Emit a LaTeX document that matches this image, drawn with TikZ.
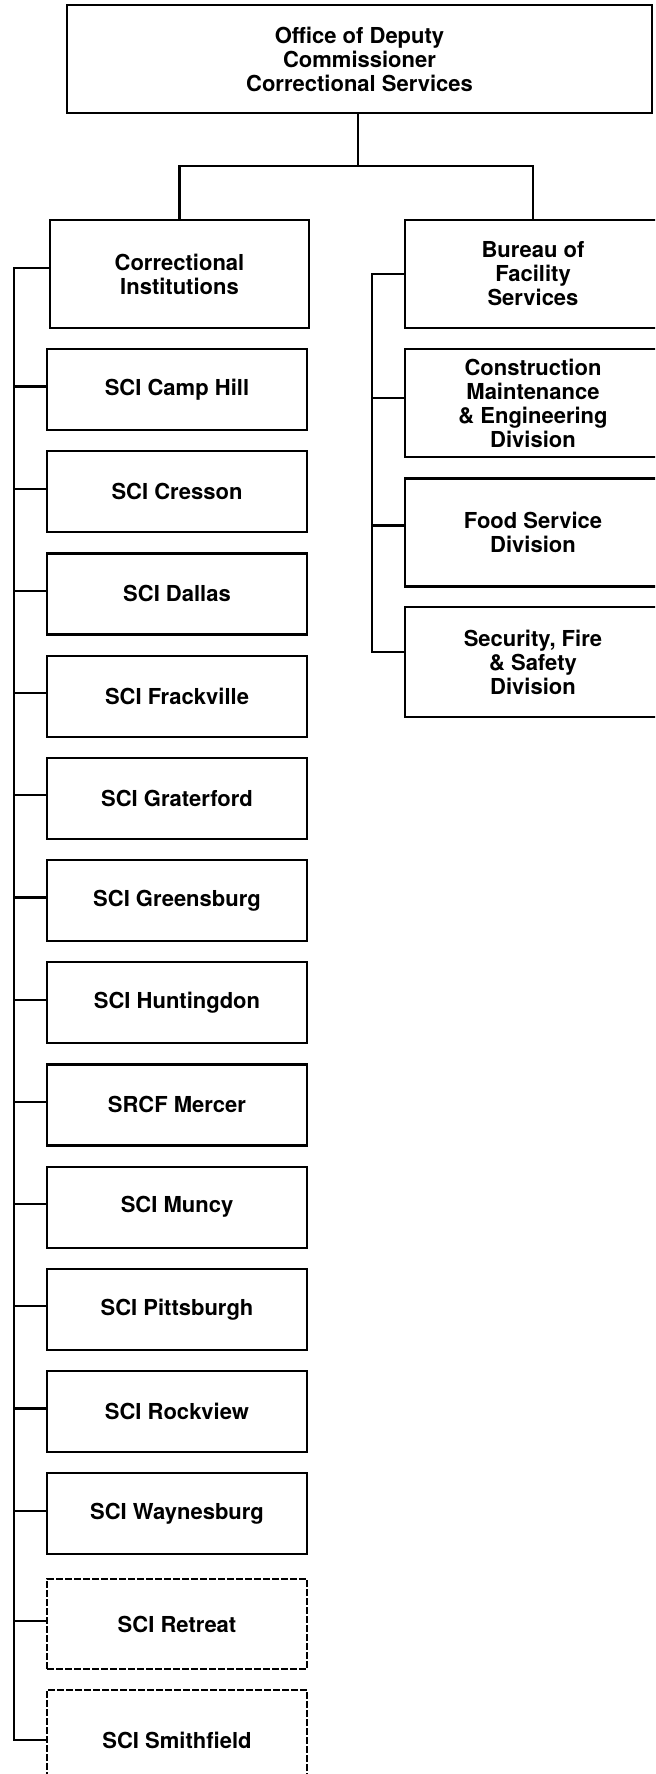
\documentclass[tikz,border=0pt]{standalone}
\usepackage{fontspec}
\setmainfont{TeX Gyre Heros}

\begin{document}
\begin{tikzpicture}[x=0.5pt,y=-0.5pt,line width=1.1pt,
  font=\bfseries\fontsize{11}{12}\selectfont,
  box/.style={draw,align=center,inner sep=2pt,minimum width=130pt,minimum height=40.5pt},
  bigbox/.style={box,minimum height=54pt},
  dbox/.style={box,dash pattern=on 3.5pt off 1pt}]
 \useasboundingbox (0,0) rectangle (655,1774);
 \clip (0,0) rectangle (655,1774);
 \node[bigbox,minimum width=292.5pt] (dep) at(359.5,59){Office of Deputy\\Commissioner\\Correctional Services};
 \node[bigbox,minimum width=129.5pt] (ci) at(179.5,274){Correctional\\Institutions};
 \node[bigbox,minimum width=128pt] (bfs) at(533,274){Bureau of\\Facility\\Services};
 \node[bigbox,minimum width=128pt] (cme) at(533,403){Construction\\Maintenance\\\& Engineering\\Division};
 \node[bigbox,minimum width=128pt] (food) at(533,532.5){Food Service\\Division};
 \node[bigbox,minimum width=128pt,minimum height=55pt] (sfs) at(533,662){Security, Fire\\\& Safety\\Division};
 \coordinate (split) at(358,166);
 \coordinate (lt) at(14,0);
 \coordinate (rt) at(372,0);
 \draw (dep.south -| split) -- (split);
 \draw (ci) |- (split) -| (bfs);
 % state institutions, left column
 \foreach \n/\t [count=\i from 0] in {camp/SCI Camp Hill,cres/SCI Cresson,dal/SCI Dallas,
   frack/SCI Frackville,grat/SCI Graterford,gree/SCI Greensburg,hunt/SCI Huntingdon,
   merc/SRCF Mercer,mun/SCI Muncy,pitt/SCI Pittsburgh,rock/SCI Rockview,way/SCI Waynesburg}{
   \node[box] (\n) at(177,{389.5+102.2*\i}){\t};
   \draw ([yshift=1.5pt]\n.west) -- ([yshift=1.5pt]\n.west -| lt);
 }
 \node[dbox,minimum height=45pt] (ret) at(177,1624){SCI Retreat};
 \node[dbox,minimum height=50pt] (smi) at(177,1740){SCI Smithfield};
 \draw ([yshift=1.5pt]ret.west) -- ([yshift=1.5pt]ret.west -| lt);
 \draw ([yshift=3pt]ci.west) -- ([yshift=3pt]ci.west -| lt) -- (smi.west -| lt) -- (smi.west);
 % bureau divisions, right column
 \draw (bfs.west) -- (bfs.west -| rt) -- ([yshift=5pt]sfs.west -| rt) -- ([yshift=5pt]sfs.west);
 \draw ([yshift=2.5pt]cme.west) -- ([yshift=2.5pt]cme.west -| rt);
 \draw ([yshift=3.5pt]food.west) -- ([yshift=3.5pt]food.west -| rt);
\end{tikzpicture}
\end{document}
